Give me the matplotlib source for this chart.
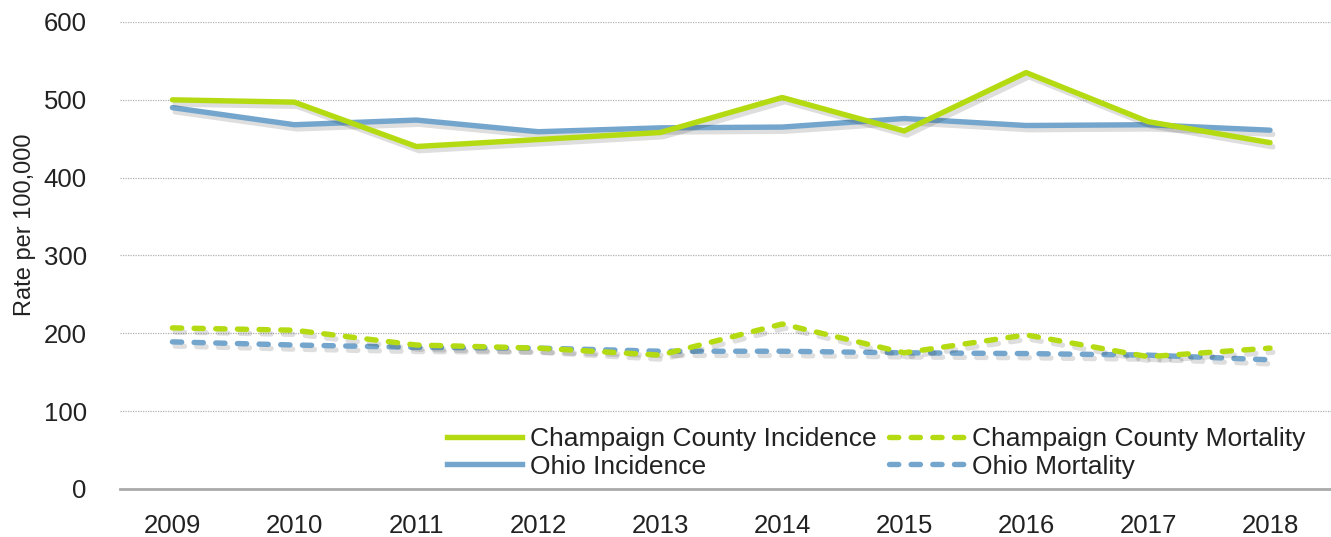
import matplotlib
matplotlib.use("Agg")
import matplotlib.pyplot as plt
import matplotlib.patheffects as pe
from matplotlib.lines import Line2D

years = ["2009", "2010", "2011", "2012", "2013", "2014", "2015", "2016", "2017", "2018"]
champaign_incidence = [500, 497, 440, 449, 458, 503, 460, 535, 472, 445]
ohio_incidence = [490, 468, 474, 459, 464, 465, 476, 467, 468, 461]
champaign_mortality = [207, 204, 185, 181, 172, 212, 175, 198, 170, 181]
ohio_mortality = [189, 185, 182, 181, 177, 177, 175, 174, 172, 166]

green = "#B4DB12"
blue = "#74A6CD"

plt.rcParams['font.family'] = ['Liberation Sans', 'DejaVu Sans']

fig = plt.figure(figsize=(13.31, 5.37), dpi=100)
ax = fig.add_axes([120 / 1331, 1 - 489 / 537, 1 - 120 / 1331, (489 - 22) / 537])

x = list(range(len(years)))
shadow = [pe.SimpleLineShadow(offset=(2, -3), alpha=0.13, shadow_color="black"), pe.Normal()]
lw = 3.9
dash = (1.7, 2.3)

ax.plot(x, champaign_incidence, color=green, lw=lw, solid_capstyle="round",
        path_effects=shadow, zorder=4)
ax.plot(x, ohio_incidence, color=blue, lw=lw, solid_capstyle="round",
        path_effects=shadow, zorder=3)
ax.plot(x, champaign_mortality, color=green, lw=lw, dashes=dash, dash_capstyle="round",
        path_effects=shadow, zorder=4)
ax.plot(x, ohio_mortality, color=blue, lw=lw, dashes=dash, dash_capstyle="round",
        path_effects=shadow, zorder=3)

ax.set_xlim(-0.43, 9.5)
ax.set_ylim(0, 600)
ax.set_yticks(range(0, 601, 100))
ax.set_xticks(x)
ax.set_xticklabels(years)
ax.tick_params(axis="both", length=0, labelsize=18.5, colors="#222222")
ax.tick_params(axis="x", pad=18)
ax.tick_params(axis="y", pad=24)
ax.grid(axis="y", color="#b0b0b0", linestyle=(0, (1, 1)), lw=0.9)
ax.set_axisbelow(True)
for s in ["top", "right", "left"]:
    ax.spines[s].set_visible(False)
ax.spines["bottom"].set_color("#aaaaaa")
ax.spines["bottom"].set_linewidth(2)
ax.set_ylabel("Rate per 100,000", fontsize=17, color="#222222")
ax.yaxis.set_label_coords(-0.069, 0.565)

h = [Line2D([], [], color=green, lw=lw),
     Line2D([], [], color=blue, lw=lw),
     Line2D([], [], color=green, lw=lw, dashes=dash, dash_capstyle="round"),
     Line2D([], [], color=blue, lw=lw, dashes=dash, dash_capstyle="round")]
l = ["Champaign County Incidence", "Ohio Incidence", "Champaign County Mortality", "Ohio Mortality"]
leg = ax.legend(h, l, ncol=2, loc="lower left", bbox_to_anchor=((447 - 120) / 1211, 0.022),
                frameon=False, fontsize=19, handlelength=2.85, handletextpad=0.3,
                columnspacing=0.45, labelspacing=0.15, borderaxespad=0, borderpad=0)
for t in leg.get_texts():
    t.set_color("#222222")

fig.savefig("out.png", dpi=100)
